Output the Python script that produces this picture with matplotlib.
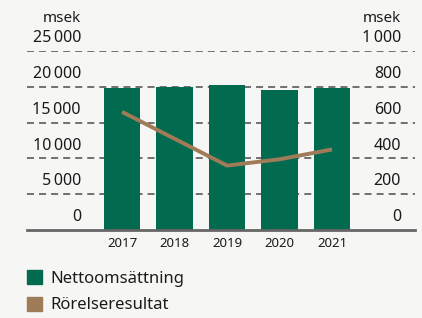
import matplotlib
matplotlib.use('Agg')
import matplotlib.pyplot as plt
from matplotlib.patches import Patch

plt.rcParams['font.family'] = ['Noto Sans', 'DejaVu Sans']

years = ['2017', '2018', '2019', '2020', '2021']
net_sales = [19800, 20000, 20300, 19500, 19800]
ebit = [660, 510, 360, 395, 450]
left_ticks = [0, 5000, 10000, 15000, 20000, 25000]
left_labels = ['0', '5\u2009000', '10\u2009000', '15\u2009000', '20\u2009000', '25\u2009000']
right_labels = ['0', '200', '400', '600', '800', '1\u2009000']

green = '#016a4f'
brown = '#a07b58'
grid_col = '#707070'
bg = '#f6f7f5'
txt = '#1a1a1a'

fig = plt.figure(figsize=(4.22, 3.18), dpi=100, facecolor=bg)
ax = fig.add_axes([27 / 422, 88 / 318, 388 / 422, 179 / 318])
ax.set_facecolor(bg)

x = list(range(len(years)))
ax.bar(x, net_sales, width=0.69, color=green, zorder=3)
ax.set_xlim(-1.81, 5.58)
ax.set_ylim(0, 25000)

for v in left_ticks[1:]:
    ax.axhline(v, color=grid_col, lw=1.4, linestyle=(0, (3.6, 2.6)), zorder=1)
ax.axhline(0, color='#666666', lw=2, zorder=4, clip_on=False)

for s in ax.spines.values():
    s.set_visible(False)
ax.set_xticks([])
ax.set_yticks([])

tr = ax.get_yaxis_transform()
for v, l, r in zip(left_ticks, left_labels, right_labels):
    ax.annotate(l, (0.139, v), xycoords=tr, xytext=(0, 3.5), textcoords='offset points',
                ha='right', va='bottom', fontsize=11.5, color=txt)
    ax.annotate(r, (0.964, v), xycoords=tr, xytext=(0, 3.5), textcoords='offset points',
                ha='right', va='bottom', fontsize=11.5, color=txt)
ax.annotate('msek', (0.139, 1), xycoords='axes fraction', xytext=(0, 18), textcoords='offset points',
            ha='right', va='bottom', fontsize=11, color=txt)
ax.annotate('msek', (0.964, 1), xycoords='axes fraction', xytext=(0, 18), textcoords='offset points',
            ha='right', va='bottom', fontsize=11, color=txt)

for xi, y in zip(x, years):
    ax.annotate(y, (xi, 0), xycoords='data', xytext=(0, -5), textcoords='offset points',
                ha='center', va='top', fontsize=9.5, color=txt)

ax2 = ax.twinx()
ax2.plot(x, ebit, color=brown, lw=2.8, zorder=5, solid_capstyle='butt')
ax2.set_ylim(0, 1000)
for s in ax2.spines.values():
    s.set_visible(False)
ax2.set_yticks([])

handles = [Patch(color=green, label='Nettoomsättning'), Patch(color=brown, label='Rörelseresultat')]
fig.legend(handles=handles, loc='upper left', bbox_to_anchor=(27 / 422, 1 - 270 / 318),
           frameon=False, borderpad=0, borderaxespad=0, handlelength=0.9, handleheight=0.9,
           handletextpad=0.5, labelspacing=0.6, fontsize=12, labelcolor=txt)

fig.savefig('out.png', dpi=100, facecolor=bg)
